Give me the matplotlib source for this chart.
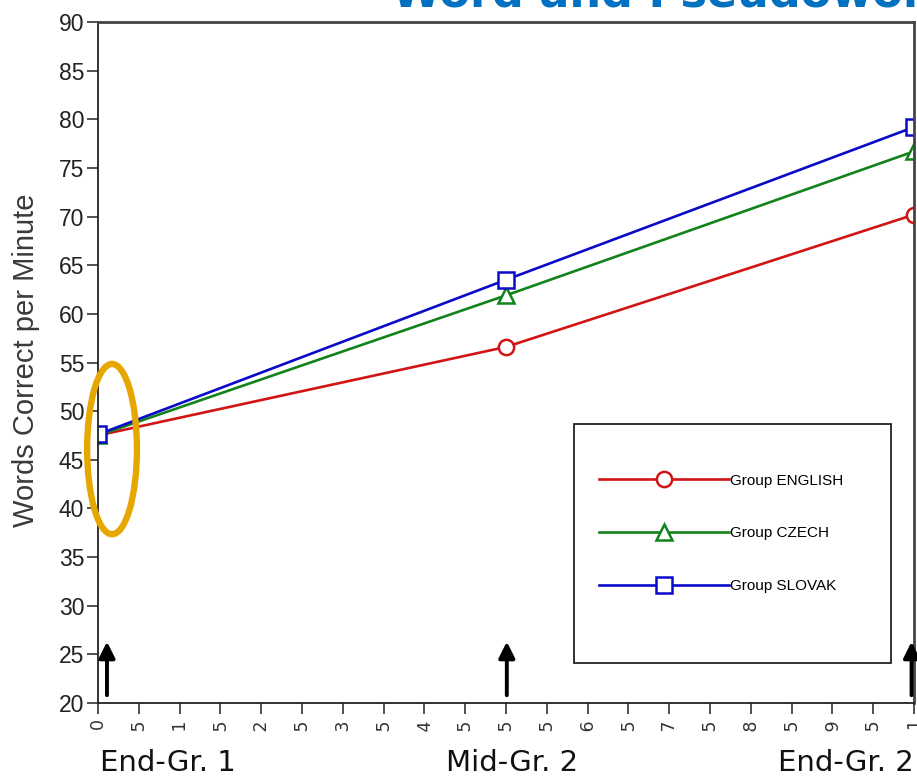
import matplotlib
matplotlib.use("Agg")
import matplotlib.pyplot as plt
from matplotlib.patches import Ellipse, Rectangle
from matplotlib.lines import Line2D

# Reading fluency (words correct per minute) at three assessment points
time_points = [0.0, 0.5, 1.0]
english = [47.5, 56.6, 70.2]
czech = [47.5, 61.9, 76.7]
slovak = [47.6, 63.5, 79.2]

group_labels = ["Group ENGLISH", "Group CZECH", "Group SLOVAK"]
x_ticks = [round(i * 0.05, 2) for i in range(21)]
x_tick_labels = ["0" if v == 0 else ("1" if v == 1 else f"{v:g}") for v in x_ticks]
y_ticks = list(range(20, 95, 5))
stage_labels = ["End-Gr. 1", "Mid-Gr. 2", "End-Gr. 2"]

NARROW = ["Liberation Sans Narrow", "Liberation Sans", "DejaVu Sans"]

fig = plt.figure(figsize=(9.17, 7.76), dpi=100)
ax = fig.add_axes([98 / 917, (776 - 703) / 776, (914 - 98) / 917, (703 - 22) / 776])

red = "#d21414"
green = "#12821a"
blue = "#0a0ac8"
lw = 1.9
ms = 11
mew = 1.8

for vals, col, mk, lab in [(english, red, "o", group_labels[0]),
                           (czech, green, "^", group_labels[1]),
                           (slovak, blue, "s", group_labels[2])]:
    ax.plot(time_points, vals, color=col, lw=lw, marker=mk, ms=ms,
            mfc="white", mec=col, mew=mew, label=lab)

ax.set_xlim(0, 1)
ax.set_ylim(20, 90)
ax.set_yticks(y_ticks)
ax.set_yticklabels([str(v) for v in y_ticks], family=NARROW, fontsize=16.5, color="#222222")
ax.set_xticks(x_ticks)
ax.set_xticklabels(x_tick_labels, rotation=90, fontsize=12.5, color="#333333",
                   va="top", ha="center")
ax.tick_params(axis="both", direction="out", length=8, width=1.2, color="#333333")
ax.tick_params(axis="y", pad=2)
ax.tick_params(axis="x", pad=3)
for side in ["left", "bottom"]:
    ax.spines[side].set_color("#222222")
    ax.spines[side].set_linewidth(1.3)
for side in ["top", "right"]:
    ax.spines[side].set_color("#444444")
    ax.spines[side].set_linewidth(2.0)

ax.set_ylabel("Words Correct per Minute", family=["Liberation Sans", "DejaVu Sans"],
              fontsize=21, color="#3a3a3a")
ax.yaxis.set_label_coords(-58 / 816, (703 - 360) / 681)

# Legend inside a fixed frame
ax.add_patch(Rectangle((0.583, 0.0587), 0.972 - 0.583, 0.4097 - 0.0587,
                       transform=ax.transAxes, fill=True, facecolor="white",
                       edgecolor="#222222", lw=1.3, zorder=5))
handles = [Line2D([], [], color=c, lw=lw, marker=m, ms=ms, mfc="white", mec=c, mew=mew)
           for c, m in [(red, "o"), (green, "^"), (blue, "s")]]
leg = ax.legend(handles, group_labels, loc="upper left", bbox_to_anchor=(0.614, 0.337),
                frameon=False, borderpad=0, borderaxespad=0, handlelength=8.5,
                handletextpad=0.05, labelspacing=2.55,
                prop={"family": NARROW, "size": 11})
leg.set_zorder(6)

# Highlight of the common starting level
ax.add_patch(Ellipse((0.0172, 46.1), 0.061, 17.5, fill=False, edgecolor="#e6a800",
                     lw=4.6, clip_on=False, zorder=7))

# Arrows marking the three assessment points
for xa in [0.011, 0.501, 0.997]:
    ax.annotate("", xy=(xa, 26.3), xytext=(xa, 20.8),
                arrowprops=dict(arrowstyle="-|>", color="black", lw=2.8,
                                mutation_scale=24, shrinkA=0, shrinkB=0),
                annotation_clip=False, zorder=8)

# White band under the axis for the stage captions
fig.patches.append(Rectangle((0, 0), 1, (776 - 733) / 776, transform=fig.transFigure,
                             facecolor="white", edgecolor="none", zorder=10))
for xs, lab in zip([100, 446, 778], stage_labels):
    fig.text(xs / 917, (776 - 771) / 776, lab, fontsize=21, color="#111111",
             ha="left", va="baseline", zorder=11)

# Slide title, partially visible at the top edge
fig.text(392 / 917, (776 - 7) / 776, "Word and Pseudoword Reading", fontsize=32,
         fontweight="bold", color="#0070c0", ha="left", va="baseline", zorder=11)

fig.savefig("out.png", dpi=100, facecolor="white")
